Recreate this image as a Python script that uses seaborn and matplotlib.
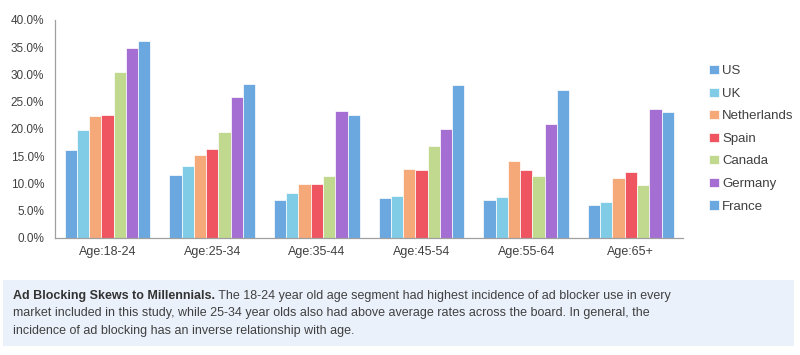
"""
Ad blocking incidence by age group and market
"""
import pandas as pd
import matplotlib
matplotlib.use("Agg")
import matplotlib.pyplot as plt
import seaborn as sns
from matplotlib.patches import Rectangle
from matplotlib.ticker import FuncFormatter, FixedLocator

age_groups = ["Age:18-24", "Age:25-34", "Age:35-44", "Age:45-54", "Age:55-64", "Age:65+"]
countries = ["US", "UK", "Netherlands", "Spain", "Canada", "Germany", "France"]

# incidence (%) per age group, one list per country
us = [16.1, 11.6, 6.9, 7.3, 6.9, 6.1]
uk = [19.8, 13.2, 8.2, 7.6, 7.5, 6.6]
netherlands = [22.4, 15.2, 9.8, 12.7, 14.1, 10.9]
spain = [22.6, 16.3, 9.8, 12.4, 12.5, 12.1]
canada = [30.5, 19.5, 11.4, 16.8, 11.3, 9.7]
germany = [34.8, 25.8, 23.2, 19.9, 20.9, 23.7]
france = [36.1, 28.3, 22.6, 28.1, 27.2, 23.1]

colors = ["#6ca8e0", "#80cbe6", "#f5a878", "#ee5560", "#c0d98e", "#a46ed2", "#6ca8e0"]

caption_bold = "Ad Blocking Skews to Millennials."
caption_lines = [
    " The 18-24 year old age segment had highest incidence of ad blocker use in every",
    "market included in this study, while 25-34 year olds also had above average rates across the board. In general, the",
    "incidence of ad blocking has an inverse relationship with age.",
]

series = [us, uk, netherlands, spain, canada, germany, france]
rows = []
for country, values in zip(countries, series):
    for age, v in zip(age_groups, values):
        rows.append({"age": age, "country": country, "value": v})
data = pd.DataFrame(rows)

sns.set_style("white")
plt.rcParams["font.family"] = ["Liberation Sans", "DejaVu Sans"]
text_color = "#404040"

fig = plt.figure(figsize=(8, 3.55), dpi=100)
ax = fig.add_axes([0.069, 0.33, 0.785, 0.614])

sns.barplot(data=data, x="age", y="value", hue="country", hue_order=countries,
            order=age_groups, palette=colors, saturation=1, width=0.82,
            edgecolor="white", linewidth=0.5, ax=ax)

ax.set_ylim(0, 40)
ax.set_xlim(-0.5, len(age_groups) - 0.5)
ax.set_yticks(range(0, 41, 5))
ax.yaxis.set_major_formatter(FuncFormatter(lambda v, _: f"{v:.1f}%"))
ax.set_xlabel("")
ax.set_ylabel("")

# group separators on the x axis
ax.xaxis.set_minor_locator(FixedLocator([i - 0.5 for i in range(len(age_groups) + 1)]))
ax.tick_params(axis="x", which="major", length=0, pad=6, labelsize=9, labelcolor=text_color)
ax.tick_params(axis="x", which="minor", length=4, color="#a0a0a0", direction="out")
ax.tick_params(axis="y", length=4, color="#a0a0a0", direction="out", labelsize=8.5,
               labelcolor=text_color, pad=4)

sns.despine(ax=ax)
for side in ["left", "bottom"]:
    ax.spines[side].set_color("#a0a0a0")
    ax.spines[side].set_linewidth(0.9)

ax.legend(loc="upper left", bbox_to_anchor=(0.872, 0.85), bbox_transform=fig.transFigure,
          frameon=False, fontsize=9.5, handlelength=0.7, handleheight=0.7,
          handletextpad=0.25, labelspacing=0.78, labelcolor=text_color)

# caption box
fig.patches.append(Rectangle((0.004, 0.025), 0.988, 0.187, transform=fig.transFigure,
                             facecolor="#ebf1fb", edgecolor="none", zorder=0))

fig.canvas.draw()
renderer = fig.canvas.get_renderer()
x0 = 0.016
line_y = [0.166, 0.117, 0.067]
cap_size = 9
bold = fig.text(x0, line_y[0], caption_bold, fontsize=cap_size, fontweight="bold",
                color="#333333", va="center")
bb = bold.get_window_extent(renderer).transformed(fig.transFigure.inverted())
fig.text(bb.x1, line_y[0], caption_lines[0], fontsize=cap_size, color=text_color, va="center")
for y, line in zip(line_y[1:], caption_lines[1:]):
    fig.text(x0, y, line, fontsize=cap_size, color=text_color, va="center")

fig.savefig("out.png", dpi=100)
